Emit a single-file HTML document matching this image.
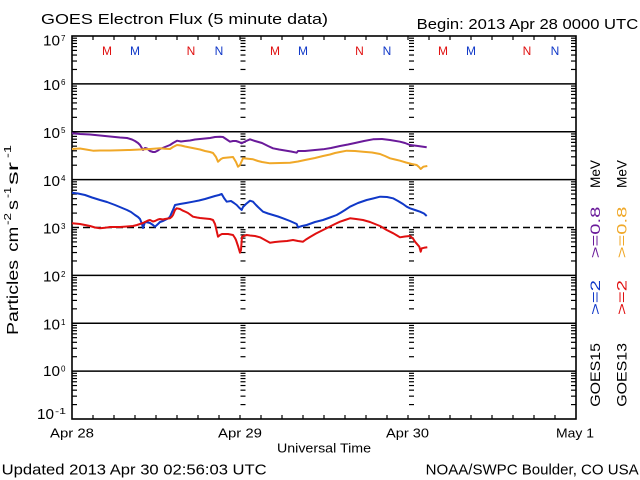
<!DOCTYPE html>
<html>
<head>
<meta charset="utf-8">
<style>
html,body{margin:0;padding:0;background:#fff;}
svg{display:block;}
text{font-family:"Liberation Sans",sans-serif;fill:#000;}
</style>
</head>
<body>
<svg width="640" height="480" viewBox="0 0 640 480" xmlns="http://www.w3.org/2000/svg">
<defs>
<g id="lt" stroke="#000" stroke-width="1.2">
<line x1="0" y1="-14.41" x2="5" y2="-14.41"/>
<line x1="0" y1="-22.84" x2="5" y2="-22.84"/>
<line x1="0" y1="-28.82" x2="5" y2="-28.82"/>
<line x1="0" y1="-33.46" x2="5" y2="-33.46"/>
<line x1="0" y1="-37.25" x2="5" y2="-37.25"/>
<line x1="0" y1="-40.46" x2="5" y2="-40.46"/>
<line x1="0" y1="-43.24" x2="5" y2="-43.24"/>
<line x1="0" y1="-45.68" x2="5" y2="-45.68"/>
</g>
<g id="col">
<use href="#lt" y="419"/>
<use href="#lt" y="371.125"/>
<use href="#lt" y="323.25"/>
<use href="#lt" y="275.375"/>
<use href="#lt" y="227.5"/>
<use href="#lt" y="179.625"/>
<use href="#lt" y="131.75"/>
<use href="#lt" y="83.875"/>
</g>
</defs>

<!-- title -->
<text x="41" y="24" font-size="15" textLength="287" lengthAdjust="spacingAndGlyphs">GOES Electron Flux (5 minute data)</text>
<text x="416.7" y="29" font-size="15" textLength="221.5" lengthAdjust="spacingAndGlyphs">Begin: 2013 Apr 28 0000 UTC</text>

<!-- gridlines -->
<g stroke="#000" stroke-width="1.5">
<line x1="72" y1="83.875" x2="576" y2="83.875"/>
<line x1="72" y1="131.75" x2="576" y2="131.75"/>
<line x1="72" y1="179.625" x2="576" y2="179.625"/>
<line x1="72" y1="275.375" x2="576" y2="275.375"/>
<line x1="72" y1="323.25" x2="576" y2="323.25"/>
<line x1="72" y1="371.125" x2="576" y2="371.125"/>
</g>
<line x1="72" y1="227.5" x2="576" y2="227.5" stroke="#000" stroke-width="1.5" stroke-dasharray="7 4"/>

<!-- log minor ticks -->
<use href="#col" x="72"/>
<use href="#col" x="240.5"/>
<use href="#col" x="409"/>
<use href="#col" x="571"/>

<!-- top/bottom time ticks -->
<g stroke="#000" stroke-width="1.2">
<line x1="93" y1="36" x2="93" y2="40"/><line x1="114" y1="36" x2="114" y2="40"/><line x1="135" y1="36" x2="135" y2="40"/><line x1="156" y1="36" x2="156" y2="40"/><line x1="177" y1="36" x2="177" y2="40"/><line x1="198" y1="36" x2="198" y2="40"/><line x1="219" y1="36" x2="219" y2="40"/><line x1="240" y1="36" x2="240" y2="40"/><line x1="261" y1="36" x2="261" y2="40"/><line x1="282" y1="36" x2="282" y2="40"/><line x1="303" y1="36" x2="303" y2="40"/><line x1="324" y1="36" x2="324" y2="40"/><line x1="345" y1="36" x2="345" y2="40"/><line x1="366" y1="36" x2="366" y2="40"/><line x1="387" y1="36" x2="387" y2="40"/><line x1="408" y1="36" x2="408" y2="40"/><line x1="429" y1="36" x2="429" y2="40"/><line x1="450" y1="36" x2="450" y2="40"/><line x1="471" y1="36" x2="471" y2="40"/><line x1="492" y1="36" x2="492" y2="40"/><line x1="513" y1="36" x2="513" y2="40"/><line x1="534" y1="36" x2="534" y2="40"/><line x1="555" y1="36" x2="555" y2="40"/>
<line x1="93" y1="415" x2="93" y2="419"/><line x1="114" y1="415" x2="114" y2="419"/><line x1="135" y1="415" x2="135" y2="419"/><line x1="156" y1="415" x2="156" y2="419"/><line x1="177" y1="415" x2="177" y2="419"/><line x1="198" y1="415" x2="198" y2="419"/><line x1="219" y1="415" x2="219" y2="419"/><line x1="240" y1="415" x2="240" y2="419"/><line x1="261" y1="415" x2="261" y2="419"/><line x1="282" y1="415" x2="282" y2="419"/><line x1="303" y1="415" x2="303" y2="419"/><line x1="324" y1="415" x2="324" y2="419"/><line x1="345" y1="415" x2="345" y2="419"/><line x1="366" y1="415" x2="366" y2="419"/><line x1="387" y1="415" x2="387" y2="419"/><line x1="408" y1="415" x2="408" y2="419"/><line x1="429" y1="415" x2="429" y2="419"/><line x1="450" y1="415" x2="450" y2="419"/><line x1="471" y1="415" x2="471" y2="419"/><line x1="492" y1="415" x2="492" y2="419"/><line x1="513" y1="415" x2="513" y2="419"/><line x1="534" y1="415" x2="534" y2="419"/><line x1="555" y1="415" x2="555" y2="419"/>
</g>

<!-- axes box -->
<rect x="72" y="36" width="504" height="383" fill="none" stroke="#000" stroke-width="1.6"/>

<!-- M / N markers -->
<g font-size="12" text-anchor="middle">
<text x="107" y="55" fill="#e01010" style="fill:#e01010">M</text>
<text x="135" y="55" style="fill:#1038c8">M</text>
<text x="191" y="55" style="fill:#e01010">N</text>
<text x="219" y="55" style="fill:#1038c8">N</text>
<text x="275" y="55" style="fill:#e01010">M</text>
<text x="303" y="55" style="fill:#1038c8">M</text>
<text x="359.5" y="55" style="fill:#e01010">N</text>
<text x="387" y="55" style="fill:#1038c8">N</text>
<text x="443" y="55" style="fill:#e01010">M</text>
<text x="471" y="55" style="fill:#1038c8">M</text>
<text x="527" y="55" style="fill:#e01010">N</text>
<text x="555" y="55" style="fill:#1038c8">N</text>
</g>

<!-- data -->
<g fill="none" stroke-width="2" stroke-linejoin="round">
<polyline stroke="#6a1a9a" points="72,133.3 80,134 90,134.5 100,135.5 110,136.5 120,137.5 127,138 132,139.5 135,141 138,143 140,145 143,150 145,148 147,148.5 150,151 153,152 155,152 158,150.5 160,149 165,147 170,145 173,143 177,140.7 181,141.5 185,141 190,140.5 195,139.5 200,139 205,138.5 210,138 215,137 220,136.7 223,137 226,139 230,141.7 233,141 236,141 239,142 241.7,143.3 245,141.5 250,139.3 255,141 262,143 268,146 273,148.3 279,149.5 285,150.5 291,151.5 296.7,152.7 298,151 305,151 315,150 323,149.3 331,148 340,146 348,144.5 355,143 364,141 373,139.3 382,139 390,140 400,141.7 405,143 410,145 418,146 426.7,147.3"/>
<polyline stroke="#f0a828" points="72,149 80,148.5 86,149.5 93,150.7 100,150.5 110,150.5 120,150.2 130,150 140,149.5 150,149 160,148.3 165,148.8 170,149 173,147 177,145 181,145.5 185,146.5 190,147.5 195,148.5 200,149.5 205,151 210,152 213,153 216,157 218,161.7 221,159 223,158 228,157.5 233,157 236,162 238,166.7 240,165 243,158.3 248,158.8 253,159.3 258,161 262,162 270,163.3 280,163 290,162.7 298,161.5 305,160 315,158 323,156 330,154.5 335,153 340,152 346.7,150.7 355,151 363,151.7 372,152.5 380,154 385,156 390,158.3 395,159.5 400,160.7 406,162.5 411.7,164 416.7,165 419,167 420.7,169 423.3,166.7 427.3,166"/>
<polyline stroke="#1038c8" points="72,192.7 78,193.5 85,195 92,197.5 100,200 107,202 115,205 121,207.5 127,210 131,212 135,215 138,217 140,219 142,224 143,228 145,222 148,222.5 150,223 153,225 155,226.7 158,224 160,222 163,221 165,220 168,218.5 170,216.7 172,212 173,210 175,205 180,204 186,203 193,201.7 199,200.5 205,199 210,197.5 215,196 219,195 221.7,194 224,198 226.7,201.7 231,201 234,203 236.7,205 239,207.5 241.7,210 243,207 246,204 250,200.7 253,201.7 256,205 258,207 263,211.7 268,213.5 273,215 278,216.5 283,218.3 290,221 296.7,224 298,227.3 302,226 306.7,225 315,222 323,220 330,217.5 336.7,215 341,212.5 345,210 350,206.7 358,203 366.7,200 373,198.5 380,196.7 387,197 393,198.3 398,201 403,204 406.7,206.7 410,208.3 415,210 420,211.7 424,213.5 426.7,216"/>
<polyline stroke="#e01010" points="72,223.3 80,224 90,226 95,227.5 100,228.3 105,227.8 110,227 120,227 127,226.5 133,226 137,225 140,224 143,223 145,222 148,220.5 150,220 153,221.5 155,221 158,219.5 160,219 163,219.5 165,219 168,218.5 170,218.3 172,216.5 173,215 175,210 176.7,208.3 180,209 183,210.7 186,212 188,213 193,216.7 197,217.5 200,218 205,218.5 210,219 213,220 215,224 216,228 218,236.7 220,235 222,234 228,234 233,235 235,238 236,240 238,246 240,252.7 241,250 242,236.7 246.7,235 250,235.5 255,236 260,237.3 265,240 270,242.7 275,242 280,241.5 287,241 293,240 298,241 303,241.7 306,239.5 310,237 316,233.5 323,230 329,227 335,224 340,221.7 345,220 350,218.3 356,219 363,220 370,222 375,224 380,226 386.7,230 393.3,233.3 397,235.5 400,237.3 405,236.5 410,236 413,238.5 415,241.7 419.3,246.7 420.7,251.7 421.7,248.3 424,247.8 427.3,247.3"/>
</g>

<!-- y tick labels -->
<g font-size="15">
<text x="43" y="45.7" textLength="17" lengthAdjust="spacingAndGlyphs">10</text>
<text x="43" y="90" textLength="17" lengthAdjust="spacingAndGlyphs">10</text>
<text x="43" y="138" textLength="17" lengthAdjust="spacingAndGlyphs">10</text>
<text x="43" y="185.8" textLength="17" lengthAdjust="spacingAndGlyphs">10</text>
<text x="43" y="233.7" textLength="17" lengthAdjust="spacingAndGlyphs">10</text>
<text x="43" y="281.6" textLength="17" lengthAdjust="spacingAndGlyphs">10</text>
<text x="43" y="329.5" textLength="17" lengthAdjust="spacingAndGlyphs">10</text>
<text x="43" y="376" textLength="17" lengthAdjust="spacingAndGlyphs">10</text>
<text x="37" y="419" textLength="17" lengthAdjust="spacingAndGlyphs">10</text>
</g>
<g font-size="8">
<text x="61" y="41">7</text>
<text x="61" y="85">6</text>
<text x="61" y="133">5</text>
<text x="61" y="181">4</text>
<text x="61" y="229">3</text>
<text x="61" y="277">2</text>
<text x="61" y="325">1</text>
<text x="61" y="371.5">0</text>
<text x="55" y="414" textLength="11" lengthAdjust="spacingAndGlyphs">-1</text>
</g>

<!-- y axis title -->
<g font-size="16">
<text transform="translate(18,335) rotate(-90)" textLength="75" lengthAdjust="spacingAndGlyphs">Particles</text>
<text transform="translate(18,251.7) rotate(-90)" textLength="25" lengthAdjust="spacingAndGlyphs">cm</text>
<text transform="translate(18,210) rotate(-90)" textLength="10" lengthAdjust="spacingAndGlyphs">s</text>
<text transform="translate(18,185) rotate(-90)" textLength="23" lengthAdjust="spacingAndGlyphs">sr</text>
</g>
<g font-size="10">
<text transform="translate(11,225) rotate(-90)" textLength="12" lengthAdjust="spacingAndGlyphs">-2</text>
<text transform="translate(11,198) rotate(-90)" textLength="11" lengthAdjust="spacingAndGlyphs">-1</text>
<text transform="translate(11,158) rotate(-90)" textLength="13" lengthAdjust="spacingAndGlyphs">-1</text>
</g>

<!-- right legend -->
<g font-size="14">
<text transform="translate(600,406.7) rotate(-90)" textLength="63.7" lengthAdjust="spacingAndGlyphs">GOES15</text>
<text transform="translate(600,315) rotate(-90)" textLength="35" lengthAdjust="spacingAndGlyphs" style="fill:#1038c8">&gt;=2</text>
<text transform="translate(600,258.3) rotate(-90)" textLength="51.6" lengthAdjust="spacingAndGlyphs" style="fill:#6a1a9a">&gt;=0.8</text>
<text transform="translate(600,188) rotate(-90)" textLength="28" lengthAdjust="spacingAndGlyphs">MeV</text>
<text transform="translate(626.5,406.7) rotate(-90)" textLength="63.7" lengthAdjust="spacingAndGlyphs">GOES13</text>
<text transform="translate(626.5,315) rotate(-90)" textLength="35" lengthAdjust="spacingAndGlyphs" style="fill:#e01010">&gt;=2</text>
<text transform="translate(626.5,258.3) rotate(-90)" textLength="51.6" lengthAdjust="spacingAndGlyphs" style="fill:#f0a828">&gt;=0.8</text>
<text transform="translate(626.5,188) rotate(-90)" textLength="28" lengthAdjust="spacingAndGlyphs">MeV</text>
</g>

<!-- x labels -->
<g font-size="13">
<text x="50" y="437.7" textLength="44" lengthAdjust="spacingAndGlyphs">Apr 28</text>
<text x="218" y="437.7" textLength="44" lengthAdjust="spacingAndGlyphs">Apr 29</text>
<text x="386" y="437.7" textLength="43" lengthAdjust="spacingAndGlyphs">Apr 30</text>
<text x="556" y="437.7" textLength="38" lengthAdjust="spacingAndGlyphs">May 1</text>
<text x="277" y="452.3" textLength="94" lengthAdjust="spacingAndGlyphs">Universal Time</text>
</g>

<!-- footer -->
<g font-size="15">
<text x="1.7" y="474.3" textLength="265" lengthAdjust="spacingAndGlyphs">Updated 2013 Apr 30 02:56:03 UTC</text>
<text x="425.7" y="474.3" textLength="213" lengthAdjust="spacingAndGlyphs">NOAA/SWPC Boulder, CO USA</text>
</g>
</svg>
</body>
</html>
